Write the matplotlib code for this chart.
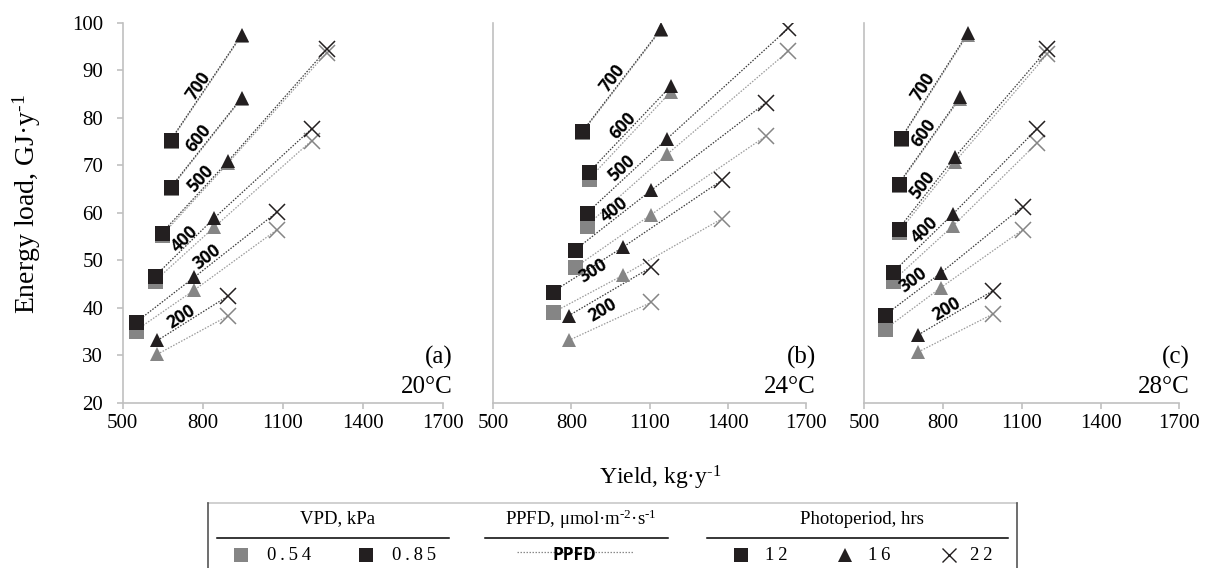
import numpy as np
import matplotlib.pyplot as plt
from matplotlib.lines import Line2D

plt.rcParams['font.family'] = 'Liberation Serif'
plt.rcParams['mathtext.fontset'] = 'custom'
plt.rcParams['mathtext.rm'] = 'Liberation Serif'
plt.rcParams['mathtext.it'] = 'Liberation Serif:italic'

# PPFD levels (rows) and photoperiods (columns)
ppfd = [200, 300, 400, 500, 600, 700]
photoperiod = [12, 16, 22]
temps = ['20°C', '24°C', '28°C']
panel_tags = ['(a)', '(b)', '(c)']

# yield, kg/y  (None = combination not shown)
yield_20 = [[None, 630, 896], [549, 768, 1078], [622, 844, 1209],
            [648, 896, 1265], [681, 946, None], [681, 946, None]]
yield_24 = [[None, 789, 1106], [730, 997, 1377], [815, 1106, 1546],
            [859, 1168, 1633], [869, 1181, None], [842, 1143, None]]
yield_28 = [[None, 706, 991], [580, 791, 1103], [610, 839, 1159],
            [631, 845, 1197], [631, 864, None], [641, 894, None]]

# energy load, GJ/y, VPD 0.85 kPa
load_20_085 = [[None, 33.1, 42.5], [36.9, 46.4, 60.1], [46.7, 58.9, 77.7],
               [55.8, 70.9, 94.4], [65.4, 84.2, None], [75.4, 97.5, None]]
load_24_085 = [[None, 38.3, 48.5], [43.4, 52.7, 66.8], [52.2, 64.7, 83.1],
               [59.9, 75.6, 98.8], [68.6, 86.6, None], [77.1, 98.6, None]]
load_28_085 = [[None, 34.3, 43.6], [38.5, 47.3, 61.3], [47.5, 59.8, 77.7],
               [56.6, 71.7, 94.4], [66.1, 84.3, None], [75.8, 97.8, None]]

# energy load, GJ/y, VPD 0.54 kPa
load_20_054 = [[None, 30.2, 38.3], [35.2, 43.7, 56.4], [45.7, 57.0, 75.2],
               [55.3, 70.5, 93.7], [65.2, 84.0, None], [75.2, 97.3, None]]
load_24_054 = [[None, 33.1, 41.1], [39.0, 46.8, 58.7], [48.5, 59.6, 76.1],
               [57.3, 72.3, 94.0], [67.2, 85.4, None], [76.9, 98.4, None]]
load_28_054 = [[None, 30.7, 38.7], [35.5, 44.2, 56.4], [45.7, 57.3, 74.7],
               [55.9, 70.7, 93.4], [65.9, 84.0, None], [75.6, 97.5, None]]

yields = [yield_20, yield_24, yield_28]
loads_085 = [load_20_085, load_24_085, load_28_085]
loads_054 = [load_20_054, load_24_054, load_28_054]

# where the PPFD labels sit (data coords), per panel, order of ppfd
label_pos = [
    [(718, 38.1), (815, 50.6), (734, 54.5), (790, 67.2), (786, 75.6), (784, 86.6)],
    [(920, 39.4), (884, 47.7), (965, 60.6), (993, 69.3), (997, 78.2), (958, 88.3)],
    [(814, 39.7), (687, 45.9), (731, 56.3), (722, 65.8), (725, 76.8), (725, 86.6)],
]

BLACK = '#231f20'
GREY = '#858585'
SPINE = '#c0c0c0'
markers = ['s', '^', 'x']
msizes = [10.8, 10.5, 11]
SUP1 = r'$^{\text{-1}}$'
SUP2 = r'$^{\text{-2}}$'

W, H = 1207, 568
fig = plt.figure(figsize=(W / 100, H / 100), dpi=100)

def fx(px):
    return px / W

def fy(py):
    return 1 - py / H

ax_left = [122.7, 493.3, 864.3]
ax_width = [320, 312.4, 315]
for i in range(3):
    ax = fig.add_axes([fx(ax_left[i]), fy(402.7), ax_width[i] / W, 380 / H])
    ax.set_xlim(500, 1700)
    ax.set_ylim(20, 100)
    ax.set_xticks([500, 800, 1100, 1400, 1700])
    ax.set_yticks(range(20, 101, 10))
    for s in ['top', 'right']:
        ax.spines[s].set_visible(False)
    for s in ['left', 'bottom']:
        ax.spines[s].set_color(SPINE)
        ax.spines[s].set_linewidth(1.2)
    ax.tick_params(axis='x', direction='out', length=4, width=1.2, color=SPINE,
                   labelsize=15, pad=4)
    if i == 0:
        ax.tick_params(axis='y', direction='out', length=4, width=1.2, color=SPINE,
                       labelsize=15, pad=10)
    else:
        ax.tick_params(axis='y', length=0, labelleft=False)

    Y = np.array(yields[i], dtype=float)
    for load, col, lcol, z in [(loads_054[i], GREY, '#9a9a9a', 2),
                               (loads_085[i], BLACK, '#3a3a3a', 3)]:
        L = np.array(load, dtype=float)
        for r in range(len(ppfd)):
            ok = ~np.isnan(Y[r])
            ax.plot(Y[r][ok], L[r][ok], linestyle=(0, (1.2, 1.2)), color=lcol,
                    linewidth=0.9, zorder=z)
            for c in range(len(photoperiod)):
                if np.isnan(Y[r][c]):
                    continue
                if markers[c] == 'x':
                    ax.plot(Y[r][c], L[r][c], marker='x', ms=msizes[c], mew=1.1,
                            color=col, linestyle='none', zorder=z + 2)
                else:
                    ax.plot(Y[r][c], L[r][c], marker=markers[c], ms=msizes[c],
                            mew=0, color=col, linestyle='none', zorder=z + 2)

    # PPFD labels rotated along the black lines
    L = np.array(loads_085[i], dtype=float)
    for r, p in enumerate(ppfd):
        ok = np.where(~np.isnan(Y[r]))[0]
        a, b = ok[0], ok[1]
        ang = np.degrees(np.arctan2(L[r][b] - L[r][a], Y[r][b] - Y[r][a]))
        lx, ly = label_pos[i][r]
        ax.text(lx, ly, str(p), rotation=ang, transform_rotates_text=True,
                rotation_mode='anchor', ha='center', va='center',
                fontsize=12.5, fontweight='bold', family='Open Sans',
                color='black', zorder=8)

    ax.text(1.032, 0.118, panel_tags[i], transform=ax.transAxes, ha='right',
            va='center', fontsize=18)
    ax.text(1.032, 0.041, temps[i], transform=ax.transAxes, ha='right',
            va='center', fontsize=18)

fig.text(fx(27), fy(204), 'Energy load, GJ·y' + SUP1, rotation=90,
         ha='center', va='center', fontsize=20)
fig.text(fx(660), fy(478), 'Yield, kg·y' + SUP1, ha='center',
         va='center', fontsize=17)

# legend box drawn by hand
def hline(x0, x1, y, **kw):
    fig.add_artist(Line2D([fx(x0), fx(x1)], [fy(y), fy(y)], **kw))

def vline(x, y0, y1, **kw):
    fig.add_artist(Line2D([fx(x), fx(x)], [fy(y0), fy(y1)], **kw))

hline(207.7, 1016.7, 502.5, color='#c8c8c8', lw=1.2)
vline(207.7, 502.5, 568, color='#555555', lw=1.2)
vline(1016.7, 502.5, 568, color='#555555', lw=1.2)
hline(216.7, 449, 538.3, color='black', lw=1.1)
hline(485, 668, 538.3, color='black', lw=1.1)
hline(707, 1008, 538.3, color='black', lw=1.1)

lg = 13.5
fig.text(fx(338), fy(519), 'VPD, kPa', ha='center', va='center', fontsize=lg)
fig.text(fx(581), fy(519), 'PPFD, μmol·m' + SUP2 + '·s' + SUP1,
         ha='center', va='center', fontsize=lg)
fig.text(fx(862), fy(519), 'Photoperiod, hrs', ha='center', va='center', fontsize=lg)

row = 555
fig.add_artist(Line2D([fx(241.5)], [fy(row)], marker='s', ms=10.5, mew=0, color=GREY))
fig.text(fx(267), fy(row), '0\u2009.\u20095\u20094', ha='left', va='center', fontsize=lg)
fig.add_artist(Line2D([fx(365.5)], [fy(row)], marker='s', ms=10.5, mew=0, color=BLACK))
fig.text(fx(392), fy(row), '0\u2009.\u20098\u20095', ha='left', va='center', fontsize=lg)

hline(517, 633, 552, color='#8a8a8a', lw=0.9, linestyle=(0, (1.2, 1.2)))
fig.text(fx(574), fy(row), 'PPFD', ha='center', va='center', fontsize=12.5,
         fontweight='bold', family='Open Sans')

fig.add_artist(Line2D([fx(741.5)], [fy(row)], marker='s', ms=10, mew=0, color=BLACK))
fig.text(fx(765), fy(row), '1\u20092', ha='left', va='center', fontsize=lg)
fig.add_artist(Line2D([fx(845)], [fy(row)], marker='^', ms=9.5, mew=0, color=BLACK))
fig.text(fx(868), fy(row), '1\u20096', ha='left', va='center', fontsize=lg)
fig.add_artist(Line2D([fx(948.5)], [fy(row)], marker='x', ms=10, mew=1.0, color=BLACK))
fig.text(fx(970), fy(row), '2\u20092', ha='left', va='center', fontsize=lg)

fig.savefig('out.png', dpi=100)
